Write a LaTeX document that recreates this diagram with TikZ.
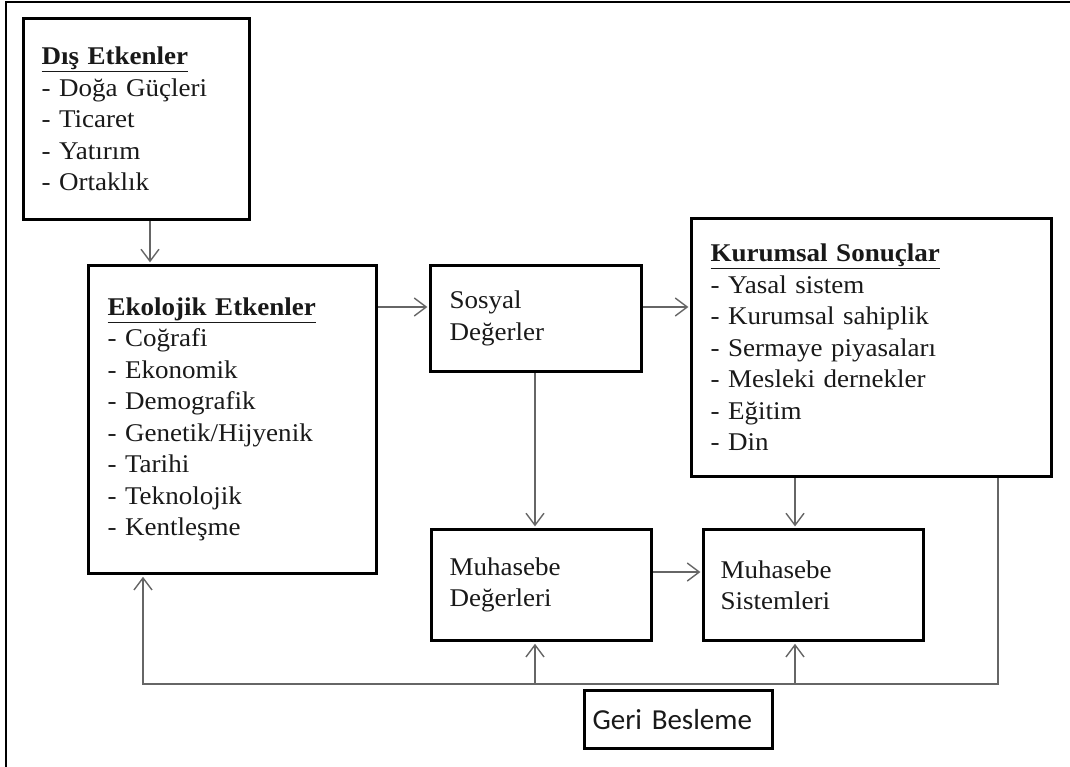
\documentclass[tikz,border=0pt]{standalone}
\usepackage{fontspec}
\setmainfont{Liberation Serif}[FakeStretch=1.06]
\newfontfamily\calibri{Carlito}
\usetikzlibrary{arrows.meta}
\tikzset{
  box/.style={draw, line width=3.2pt, anchor=north west, align=left, inner xsep=18pt, inner ysep=0pt,
    text=black!90, font=\fontsize{25.5}{31.5}\selectfont},
  link/.style={draw=black!60, line width=1.4pt, shorten >=1.6pt,
    -{Straight Barb[length=12pt,width=18pt,line width=1.4pt]}},
}
\begin{document}
\begin{tikzpicture}[x=1pt, y=-1pt]
  \useasboundingbox (0,0) rectangle (1070,767);
  \draw[line width=1.6pt] (6,767) -- (6,2) -- (1070,2);
  \node[box, text width=190pt, minimum height=201pt] (dis) at (22,17)
    {\underline{\textbf{Dış Etkenler}}\\- Doğa Güçleri\\- Ticaret\\- Yatırım\\- Ortaklık};
  \node[box, inner xsep=19pt, text width=250pt, minimum height=308pt] (eko) at (87,264)
    {\underline{\textbf{Ekolojik Etkenler}}\\- Coğrafi\\- Ekonomik\\- Demografik\\- Genetik/Hijyenik\\- Tarihi\\- Teknolojik\\- Kentleşme};
  \node[box, inner xsep=19pt, text width=173pt, minimum height=106pt] (sos) at (429,264)
    {Sosyal\\Değerler};
  \node[box, inner xsep=19pt, text width=322pt, minimum height=258pt] (kur) at (690,217)
    {\underline{\textbf{Kurumsal Sonuçlar}}\\- Yasal sistem\\- Kurumsal sahiplik\\- Sermaye piyasaları\\- Mesleki dernekler\\- Eğitim\\- Din};
  \node[box, text width=184pt, minimum height=111pt] (deg) at (430,528)
    {Muhasebe\\Değerleri};
  \node[box, inner xsep=17pt, text width=186pt, minimum height=111pt] (sis) at (702,528)
    {Muhasebe\\Sistemleri};
  \node[box, inner xsep=8pt, text width=172pt, minimum height=58pt, font=\calibri\fontsize{29}{33}\selectfont] (geri) at (583,689)
    {Geri Besleme};

  \coordinate (dx) at (150,240);
  \coordinate (ry) at (0,307);
  \coordinate (my) at (0,572);
  \coordinate (fbL) at (143,684);
  \coordinate (fbD) at (535,684);
  \coordinate (fbS) at (795,684);
  \coordinate (fbR) at (998,684);

  \draw[link] (dis.south -| dx) -- (eko.north -| dx);
  \draw[link] (eko.east |- ry) -- (sos.west |- ry);
  \draw[link] (sos.east |- ry) -- (kur.west |- ry);
  \draw[link] (sos.south -| fbD) -- (deg.north -| fbD);
  \draw[link] (kur.south -| fbS) -- (sis.north -| fbS);
  \draw[link] (deg.east |- my) -- (sis.west |- my);
  \draw[link] (kur.south -| fbR) -- (fbR) -- (fbL) -- (eko.south -| fbL);
  \draw[link] (fbD) -- (deg.south -| fbD);
  \draw[link] (fbS) -- (sis.south -| fbS);
\end{tikzpicture}
\end{document}
